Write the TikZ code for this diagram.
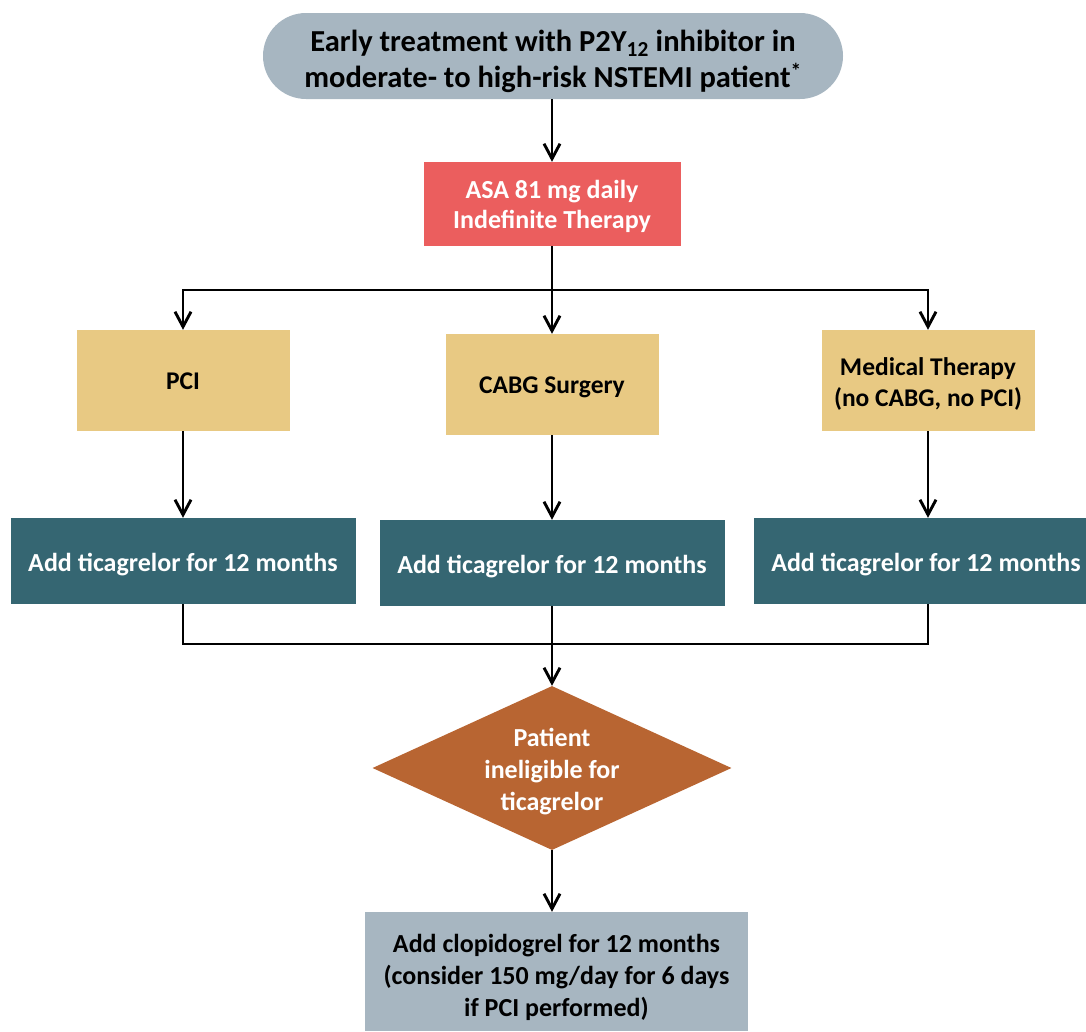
\documentclass[tikz,border=0pt]{standalone}
\usepackage{fontspec}
\setmainfont{Carlito}
\usetikzlibrary{arrows.meta,shapes.geometric}
\definecolor{pillgrey}{HTML}{A7B6C1}
\definecolor{asared}{HTML}{EB5E5E}
\definecolor{tan}{HTML}{E8C983}
\definecolor{teal}{HTML}{356672}
\definecolor{brown}{HTML}{B86532}
\tikzset{
  x=1pt,y=-1pt,
  base/.style={inner sep=0pt},
  lbl/.style={inner sep=0pt,align=center,font=\fontsize{26}{30}\selectfont\bfseries},
  pill/.style={base,fill=pillgrey,rounded corners=43pt,minimum width=580pt,minimum height=86pt},
  asabox/.style={base,fill=asared,minimum width=257pt,minimum height=84pt},
  tanbox/.style={base,fill=tan,minimum width=213pt,minimum height=101pt},
  tealbox/.style={base,fill=teal,minimum width=345pt,minimum height=86pt},
  decision/.style={base,diamond,aspect=2.19,fill=brown,minimum width=359pt,minimum height=164pt},
  greybox/.style={base,fill=pillgrey,minimum width=383pt,minimum height=119pt},
  conn/.style={line width=2.9pt,black},
  arr/.style={conn,-{Straight Barb[length=15pt,width=16pt,line width=2.9pt]}},
}
\begin{document}
\begin{tikzpicture}
\useasboundingbox (0,0) rectangle (1086,1031);
\node[pill] (top) at (553,56) {};
\node[lbl,font=\fontsize{30.5}{36}\selectfont\bfseries] (topl) at ([yshift=-5pt]top.center) {Early treatment with P2Y\textsubscript{12} inhibitor in\\moderate- to high-risk NSTEMI patient\textsuperscript{*}};
\node[asabox] (asa) at (552,204) {};
\node[lbl,text=white] (asal) at ([yshift=-2.5pt]asa.center) {ASA 81 mg daily\\Indefinite Therapy};
\node[tanbox] (pci) at (183,380.5) {};
\node[lbl,font=\fontsize{25.5}{31}\selectfont\bfseries] (pcil) at ([yshift=-1pt]pci.center) {PCI};
\node[tanbox] (cabg) at (552,384.5) {};
\node[lbl,font=\fontsize{25.5}{31}\selectfont\bfseries] (cabgl) at ([yshift=-2.5pt]cabg.center) {CABG Surgery};
\node[tanbox] (med) at (928,380.5) {};
\node[lbl,font=\fontsize{25.5}{31}\selectfont\bfseries] (medl) at ([yshift=-3pt]med.center) {Medical Therapy\\(no CABG, no PCI)};
\node[tealbox] (t1) at (183,561) {};
\node[lbl,text=white] (t1l) at ([yshift=-4pt]t1.center) {Add ticagrelor for 12 months};
\node[tealbox] (t2) at (552,563) {};
\node[lbl,text=white] (t2l) at ([yshift=-4pt]t2.center) {Add ticagrelor for 12 months};
\node[tealbox,minimum width=332pt] (t3) at (920,561) {};
\node[lbl,text=white] (t3l) at ([xshift=6pt,yshift=-4pt]t3.center) {Add ticagrelor for 12 months};
\node[decision] (dia) at (552,768) {};
\node[lbl,text=white,font=\fontsize{26}{32}\selectfont\bfseries] (dial) at ([yshift=-4pt]dia.center) {Patient\\ineligible for\\ticagrelor};
\node[greybox] (clop) at (556.5,971.5) {};
\node[lbl,font=\fontsize{26}{32}\selectfont\bfseries] (clopl) at ([yshift=-5.5pt]clop.center) {Add clopidogrel for 12 months\\(consider 150 mg/day for 6 days\\if PCI performed)};
\coordinate (j1) at (552,290);
\coordinate (j2) at (552,644);
\draw[arr] (top.south -| asa.north) -- (asa.north);
\draw[conn] (asa.south) -- (j1);
\draw[arr] (j1) -| (pci.north);
\draw[arr] (j1) -| (med.north);
\draw[arr] (j1) -- (cabg.north);
\draw[arr] (pci) -- (t1);
\draw[arr] (cabg) -- (t2);
\draw[arr] (med.south) -- (med.south |- t3.north);
\draw[conn] (t1.south) |- (j2);
\draw[conn] (t3.south -| med.south) |- (j2);
\draw[conn] (t2.south) -- (j2);
\draw[arr] (j2) -- (dia.north);
\draw[arr] (dia.south) -- (dia.south |- clop.north);
\end{tikzpicture}
\end{document}
